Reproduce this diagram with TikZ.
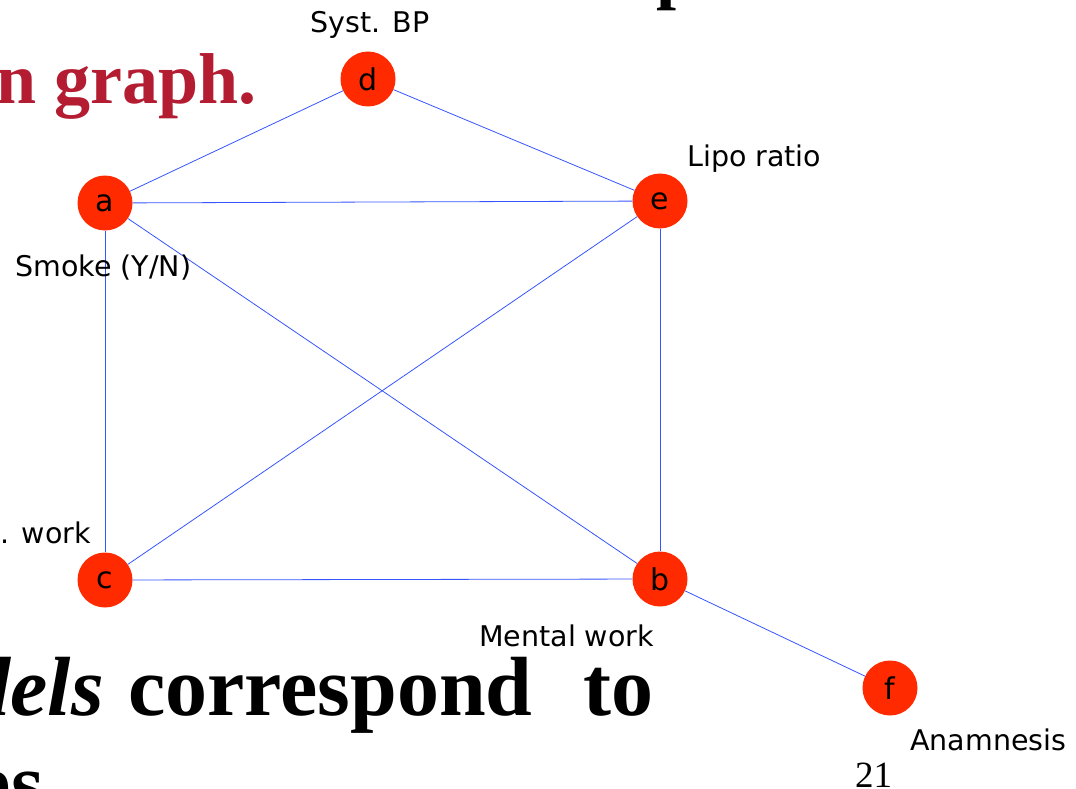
\documentclass[tikz,border=0pt]{standalone}
\usepackage{fontspec}
\setmainfont{Liberation Serif}
\newfontfamily\labfont[WordSpace=1.3]{DejaVu Sans}
\newfontfamily\labfontb{DejaVu Sans}
\definecolor{nodered}{RGB}{255,42,0}
\definecolor{edgeblue}{RGB}{55,85,255}
\definecolor{titlered}{RGB}{180,28,50}
\begin{document}
\begin{tikzpicture}[x=1pt,y=-1pt,
  vnode/.style={circle,fill=nodered,minimum size=55pt,inner sep=0pt,font=\labfontb\fontsize{30}{32}\selectfont},
  vlabel/.style={font=\labfont\fontsize{28.5}{30}\selectfont,inner sep=0pt},
  edge/.style={draw=edgeblue,line width=0.8pt},
  slidetext/.style={font=\bfseries\fontsize{84}{90}\selectfont,inner sep=0pt},
  titletext/.style={font=\bfseries\fontsize{72}{76}\selectfont,inner sep=0pt}]
\useasboundingbox (0,0) rectangle (1076,789);
\clip (0,0) rectangle (1076,789);

% slide background texts
\node[titletext,text=titlered,anchor=base west] (title) at (-4,104) {n graph.};
\node[titletext,anchor=base west] (titlep) at (656,-4) {p};
\node[slidetext,anchor=base east] (dels) at (104,715) {\itshape dels};
\node[slidetext,anchor=base west] (corr) at (128,715) {correspond};
\node[slidetext,anchor=base west] (to) at (583,715) {to};
\node[slidetext,anchor=base east] (es) at (44,811) {es};
\node[font=\fontsize{37}{40}\selectfont,inner sep=0pt,anchor=base west] (pagenum) at (855,787) {21};

% graph nodes
\node[vnode] (d) at (368,79) {d};
\node[vnode] (a) at (105,203) {a};
\node[vnode] (e) at (660,201) {e};
\node[vnode] (c) at (105,580) {c};
\node[vnode] (b) at (660,579) {b};
\node[vnode] (f) at (890,688) {f};

% edges
\path[edge] (d) -- (a);
\path[edge] (d) -- (e);
\path[edge] (a) -- (e);
\path[edge] (a) -- (c);
\path[edge] (a) -- (b);
\path[edge] (e) -- (c);
\path[edge] (e) -- (b);
\path[edge] (c) -- (b);
\path[edge] (b) -- (f);

% labels
\node[vlabel,anchor=base] (ld) at (370,33) {Syst. BP};
\node[vlabel,anchor=base west] (le) at (687,167) {Lipo ratio};
\node[vlabel,anchor=base west] (la) at (15,276) {Smoke (Y/N)};
\node[vlabel,font=\labfontb\fontsize{28.5}{30}\selectfont,anchor=base east] (lc) at (91,543) {s. work};
\node[vlabel,anchor=base west] (lb) at (479,646) {Mental work};
\node[vlabel,anchor=base west] (lf) at (910,750) {Anamnesis};
\end{tikzpicture}
\end{document}
